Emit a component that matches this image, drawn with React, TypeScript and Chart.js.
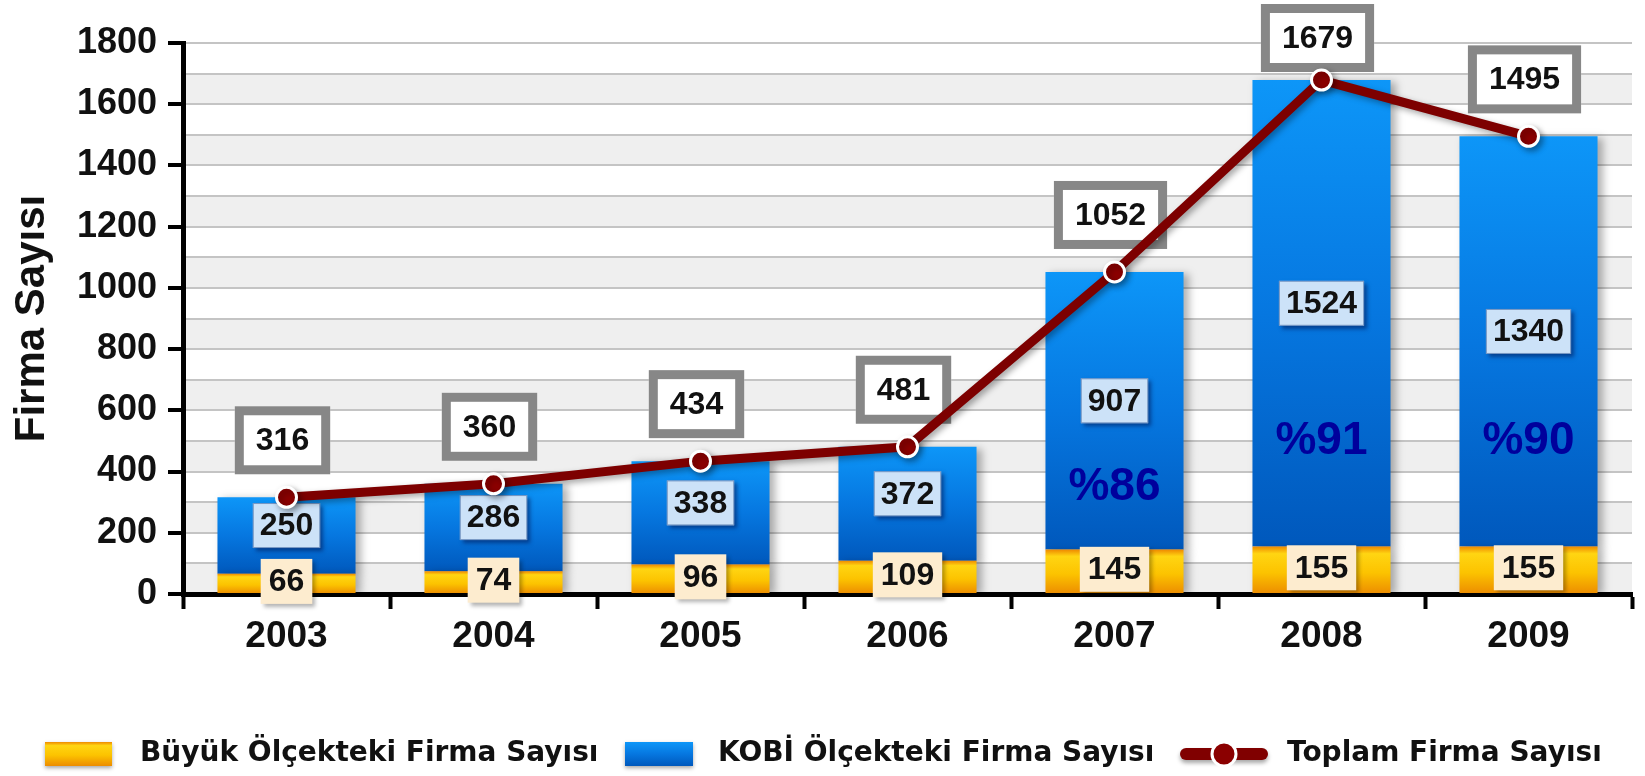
import React, { useEffect, useRef } from 'react';
import { Chart, registerables } from 'chart.js';

Chart.register(...registerables);

// ---------- data ----------
const years = ['2003', '2004', '2005', '2006', '2007', '2008', '2009'];
const buyuk = [66, 74, 96, 109, 145, 155, 155];
const kobi = [250, 286, 338, 372, 907, 1524, 1340];
const toplam = [316, 360, 434, 481, 1052, 1679, 1495];
const pctYears = ['2007', '2008', '2009'];
const pctLabels = ['%86', '%91', '%90'];
const pctAnchor = [350, 500, 500];
const yMax = 1800;
const yStep = 100;
const yLabelStep = 200;
const legendLabels = ['Büyük Ölçekteki Firma Sayısı', 'KOBİ Ölçekteki Firma Sayısı', 'Toplam Firma Sayısı'];
const yTitle = 'Firma Sayısı';

const ARIAL = '"Liberation Sans", Arial, Helvetica, sans-serif';
const VERD = '"DejaVu Sans", Verdana, sans-serif';

function blueGrad(ctx: CanvasRenderingContext2D, top: number, bottom: number) {
  const g = ctx.createLinearGradient(0, top, 0, bottom);
  g.addColorStop(0, '#0d96f8');
  g.addColorStop(0.5, '#0677e0');
  g.addColorStop(1, '#0058bc');
  return g;
}
function yellowGrad(ctx: CanvasRenderingContext2D, top: number, bottom: number) {
  const g = ctx.createLinearGradient(0, top, 0, bottom);
  g.addColorStop(0, '#ee8a00');
  g.addColorStop(0.15, '#ffd512');
  g.addColorStop(0.55, '#fcc300');
  g.addColorStop(1, '#ec8c00');
  return g;
}

function drawLabelBox(
  ctx: CanvasRenderingContext2D, text: string, cx: number, cy: number,
  padX: number, h: number, fill: string, shadow: string | null, stroke: string | null
) {
  ctx.save();
  ctx.font = `bold 32px ${ARIAL}`;
  const tw = ctx.measureText(text).width;
  const w = tw + padX;
  const x = cx - w / 2, y = cy - h / 2;
  if (shadow) {
    ctx.shadowColor = shadow;
    ctx.shadowBlur = 4;
    ctx.shadowOffsetX = 3;
    ctx.shadowOffsetY = 3;
  }
  ctx.fillStyle = fill;
  ctx.fillRect(x, y, w, h);
  ctx.shadowColor = 'transparent';
  if (stroke) {
    ctx.strokeStyle = stroke;
    ctx.lineWidth = 1;
    ctx.strokeRect(x + 0.5, y + 0.5, w - 1, h - 1);
  }
  ctx.fillStyle = '#111';
  ctx.textAlign = 'center';
  ctx.textBaseline = 'middle';
  ctx.fillText(text, cx, cy + 1);
  ctx.restore();
}

const bandsPlugin = {
  id: 'bands',
  beforeDraw(chart: any) {
    const { ctx, chartArea, scales } = chart;
    const y = scales.y;
    ctx.save();
    ctx.fillStyle = '#efefef';
    for (let v = 0; v < yMax; v += yLabelStep) {
      const t = y.getPixelForValue(v + yStep);
      const b = y.getPixelForValue(v);
      ctx.fillRect(chartArea.left, t, chartArea.right - chartArea.left, b - t);
    }
    ctx.restore();
  },
};

const labelsPlugin = {
  id: 'labelsAndShadows',
  beforeDatasetDraw(chart: any, args: any) {
    const ctx = chart.ctx;
    if (args.index === 2) {
      const mB = chart.getDatasetMeta(0);
      const mK = chart.getDatasetMeta(1);
      const mL = chart.getDatasetMeta(2);
      // KOBI labels
      kobi.forEach((v, i) => {
        const el = mK.data[i];
        const cy = (el.y + el.base) / 2 - 10;
        drawLabelBox(ctx, String(v), el.x, cy, 14, 45, '#cce2f8', 'rgba(0,20,80,0.55)', 'rgba(60,100,160,0.6)');
      });
      // Buyuk labels
      buyuk.forEach((v, i) => {
        const el = mB.data[i];
        const cy = (el.y + el.base) / 2 - 2;
        drawLabelBox(ctx, String(v), el.x, cy, 16, 45, '#fdeccf', 'rgba(0,0,0,0.3)', null);
      });
      // Total boxes
      toplam.forEach((v, i) => {
        const pt = mL.data[i];
        ctx.save();
        ctx.font = `bold 32px ${ARIAL}`;
        const tw = ctx.measureText(String(v)).width;
        const w = tw + 42, h = 68;
        let cy = pt.y - 57;
        if (cy - h / 2 < 4) cy = 4 + h / 2;
        const x = pt.x - 4 - w / 2, y = cy - h / 2;
        ctx.fillStyle = '#ffffff';
        ctx.fillRect(x, y, w, h);
        ctx.strokeStyle = '#878787';
        ctx.lineWidth = 9;
        ctx.strokeRect(x + 4.5, y + 4.5, w - 9, h - 9);
        ctx.fillStyle = '#111';
        ctx.textAlign = 'center';
        ctx.textBaseline = 'middle';
        ctx.fillText(String(v), pt.x - 4, cy + 1);
        ctx.restore();
      });
      // percentage labels
      const xs = chart.scales.x, ys = chart.scales.y;
      ctx.save();
      ctx.font = `bold 46px ${ARIAL}`;
      ctx.fillStyle = '#00009c';
      ctx.textAlign = 'center';
      ctx.textBaseline = 'middle';
      pctLabels.forEach((t, i) => {
        const px = xs.getPixelForValue(years.indexOf(pctYears[i]));
        const py = ys.getPixelForValue(pctAnchor[i]);
        ctx.fillText(t, px, py);
      });
      ctx.restore();
      // line shadow
      ctx.save();
      ctx.shadowColor = 'rgba(0,0,0,0.35)';
      ctx.shadowBlur = 6;
      ctx.shadowOffsetX = 3;
      ctx.shadowOffsetY = 3;
    } else {
      ctx.save();
      ctx.shadowColor = 'rgba(0,0,0,0.3)';
      ctx.shadowBlur = 8;
      ctx.shadowOffsetX = 5;
      ctx.shadowOffsetY = 2;
    }
  },
  afterDatasetDraw(chart: any) {
    chart.ctx.restore();
  },
};

const legendPlugin = {
  id: 'customLegend',
  afterDraw(chart: any) {
    const ctx: CanvasRenderingContext2D = chart.ctx;
    const cy = 754;
    ctx.save();
    // colour boxes
    ctx.save();
    ctx.shadowColor = 'rgba(0,0,0,0.35)';
    ctx.shadowBlur = 4;
    ctx.shadowOffsetY = 2;
    ctx.fillStyle = yellowGrad(ctx, cy - 12, cy + 12);
    ctx.fillRect(45, cy - 12, 67, 24);
    ctx.fillStyle = blueGrad(ctx, cy - 12, cy + 12);
    ctx.fillRect(625, cy - 12, 68, 24);
    ctx.restore();
    // line marker
    ctx.save();
    ctx.shadowColor = 'rgba(0,0,0,0.35)';
    ctx.shadowBlur = 4;
    ctx.shadowOffsetY = 3;
    ctx.strokeStyle = '#800000';
    ctx.lineWidth = 12;
    ctx.lineCap = 'round';
    ctx.beginPath();
    ctx.moveTo(1186, cy);
    ctx.lineTo(1262, cy);
    ctx.stroke();
    ctx.shadowColor = 'transparent';
    ctx.beginPath();
    ctx.arc(1224, cy, 12, 0, Math.PI * 2);
    ctx.fillStyle = '#8b0000';
    ctx.fill();
    ctx.lineWidth = 3;
    ctx.strokeStyle = '#ffffff';
    ctx.stroke();
    ctx.restore();
    // texts
    ctx.font = `bold 28px ${VERD}`;
    ctx.fillStyle = '#111';
    ctx.textAlign = 'left';
    ctx.textBaseline = 'middle';
    ctx.fillText(legendLabels[0], 140, cy);
    ctx.fillText(legendLabels[1], 718, cy);
    ctx.fillText(legendLabels[2], 1287, cy);
    ctx.restore();
  },
};

export default function App() {
  const ref = useRef<HTMLCanvasElement | null>(null);
  useEffect(() => {
    if (!ref.current) return;
    const chart = new Chart(ref.current, {
      type: 'bar',
      data: {
        labels: years,
        datasets: [
          {
            type: 'bar',
            label: legendLabels[0],
            data: buyuk,
            order: 1,
            stack: 's',
            barPercentage: 0.667,
            categoryPercentage: 1,
            borderWidth: 0,
            backgroundColor: (c: any) => {
              const chart = c.chart;
              const y = chart.scales && chart.scales.y;
              if (!y || c.type !== 'data' || !chart.chartArea) return '#fcc300';
              const i = c.dataIndex;
              return yellowGrad(chart.ctx, y.getPixelForValue(buyuk[i]), y.getPixelForValue(0));
            },
          },
          {
            type: 'bar',
            label: legendLabels[1],
            data: kobi,
            order: 1,
            stack: 's',
            barPercentage: 0.667,
            categoryPercentage: 1,
            borderWidth: 0,
            backgroundColor: (c: any) => {
              const chart = c.chart;
              const y = chart.scales && chart.scales.y;
              if (!y || c.type !== 'data' || !chart.chartArea) return '#0679e2';
              const i = c.dataIndex;
              return blueGrad(chart.ctx, y.getPixelForValue(buyuk[i] + kobi[i]), y.getPixelForValue(buyuk[i]));
            },
          },
          {
            type: 'line',
            label: legendLabels[2],
            data: toplam,
            order: 0,
            borderColor: '#7d0000',
            borderWidth: 9,
            pointRadius: 10,
            pointBackgroundColor: '#8b0000',
            pointBorderColor: '#ffffff',
            pointBorderWidth: 3,
            tension: 0,
            clip: false as any,
          } as any,
        ],
      },
      options: {
        responsive: false,
        animation: false,
        events: [],
        layout: { padding: { top: 43, right: 13, bottom: 112, left: 0 } },
        plugins: {
          legend: { display: false },
          tooltip: { enabled: false },
          title: { display: false },
        },
        scales: {
          x: {
            stacked: true,
            afterFit: (s: any) => { s.height = 70; },
            grid: {
              offset: true,
              drawOnChartArea: false,
              drawTicks: true,
              tickLength: 15,
              tickColor: '#000',
              tickWidth: 4,
            },
            border: { display: true, color: '#000', width: 5 },
            ticks: {
              color: '#111',
              padding: 6,
              font: { family: ARIAL, size: 37, weight: 'bold' },
              maxRotation: 0,
            },
          },
          y: {
            stacked: true,
            min: 0,
            max: yMax,
            afterFit: (s: any) => { s.width = 183; },
            grid: {
              color: '#c4c4c4',
              lineWidth: 2,
              drawTicks: true,
              tickLength: 15,
              tickWidth: 4,
              tickColor: (c: any) => (c.tick && c.tick.value % yLabelStep === 0 ? '#000' : 'rgba(0,0,0,0)'),
            },
            border: { display: true, color: '#000', width: 5 },
            ticks: {
              stepSize: yStep,
              autoSkip: false,
              color: '#111',
              padding: 11,
              font: { family: ARIAL, size: 36, weight: 'bold' },
              callback: (v: any) => (Number(v) % yLabelStep === 0 ? String(v) : ''),
            },
            title: {
              display: true,
              text: yTitle,
              color: '#111',
              font: { family: ARIAL, size: 42, weight: 'bold', lineHeight: 1.2 },
              padding: { top: 7, bottom: 0 },
            },
          },
        },
      } as any,
      plugins: [bandsPlugin, labelsPlugin, legendPlugin],
    });
    return () => chart.destroy();
  }, []);

  return (
    <div style={{ position: 'fixed', left: 0, top: 0, width: 1645, height: 776, background: '#fff' }}>
      <canvas ref={ref} width={1645} height={776} style={{ display: 'block', width: 1645, height: 776 }} />
    </div>
  );
}
